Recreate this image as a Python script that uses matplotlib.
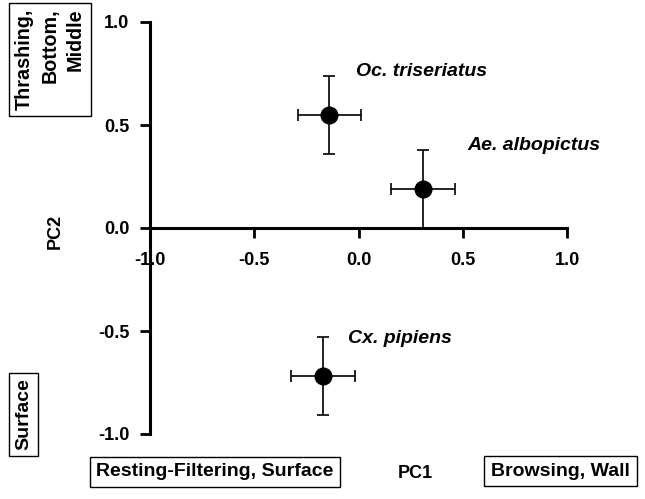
import matplotlib
matplotlib.use("Agg")
import matplotlib.pyplot as plt

plt.rcParams['font.family'] = ['Liberation Sans', 'DejaVu Sans']
plt.rcParams['font.weight'] = 'bold'

# PCA scores (mean +/- error)
species = ['Oc. triseriatus', 'Ae. albopictus', 'Cx. pipiens']
pc1 = [-0.14, 0.31, -0.17]
pc2 = [0.55, 0.19, -0.72]
pc1_err = [0.15, 0.155, 0.155]
pc2_err = [0.19, 0.19, 0.19]
label_x = [-0.01, 0.52, -0.05]
label_y = [0.76, 0.40, -0.535]

ticks = [-1.0, -0.5, 0.0, 0.5, 1.0]
yticks = [-1.0, -0.5, 0.0, 0.5, 1.0]

fig = plt.figure(figsize=(6.45, 4.99), dpi=100)
ax = fig.add_axes([150/645, 65/499, 417/645, 412/499])

ax.errorbar(pc1, pc2, xerr=pc1_err, yerr=pc2_err, fmt='o', color='black',
            ecolor='black', elinewidth=1.2, capsize=4, capthick=1.2,
            markersize=12, clip_on=False, zorder=3)

for name, lx, ly in zip(species, label_x, label_y):
    ax.text(lx, ly, name, style='italic', fontsize=14, va='center', ha='left')

ax.set_xlim(-1, 1)
ax.set_ylim(-1, 1)
ax.spines['top'].set_visible(False)
ax.spines['right'].set_visible(False)
ax.spines['bottom'].set_position(('data', 0))
ax.spines['left'].set_linewidth(2.2)
ax.spines['bottom'].set_linewidth(2.2)
ax.set_xticks(ticks)
ax.set_yticks(yticks)
ax.set_xticklabels([f'{t:.1f}' for t in ticks])
ax.set_yticklabels([f'{t:.1f}' for t in yticks])
ax.tick_params(axis='x', direction='out', length=7, width=2, pad=10, labelsize=13)
ax.tick_params(axis='y', direction='out', length=7, width=2, pad=8, labelsize=13)

box = dict(boxstyle='square,pad=0.35', facecolor='white', edgecolor='black', linewidth=1)

fig.text(55/645, 1 - 231/499, 'PC2', rotation=90, fontsize=13, ha='center', va='center')
fig.text(415/645, 1 - 474/499, 'PC1', fontsize=13, ha='center', va='center')

fig.text(50/645, 1 - 59.5/499, 'Thrashing,\nBottom,\nMiddle', rotation=90, fontsize=14.2,
         ha='center', va='center', multialignment='right', linespacing=1.42,
         bbox=dict(box, boxstyle='square,pad=0.3'))
fig.text(23.5/645, 1 - 414.5/499, 'Surface', rotation=90, fontsize=14,
         ha='center', va='center', bbox=dict(box, boxstyle='square,pad=0.3'))
fig.text(215/645, 1 - 472/499, 'Resting-Filtering, Surface', fontsize=14,
         ha='center', va='center', bbox=box)
fig.text(560.5/645, 1 - 471/499, 'Browsing, Wall', fontsize=14,
         ha='center', va='center', bbox=box)

fig.savefig('out.png', dpi=100)
